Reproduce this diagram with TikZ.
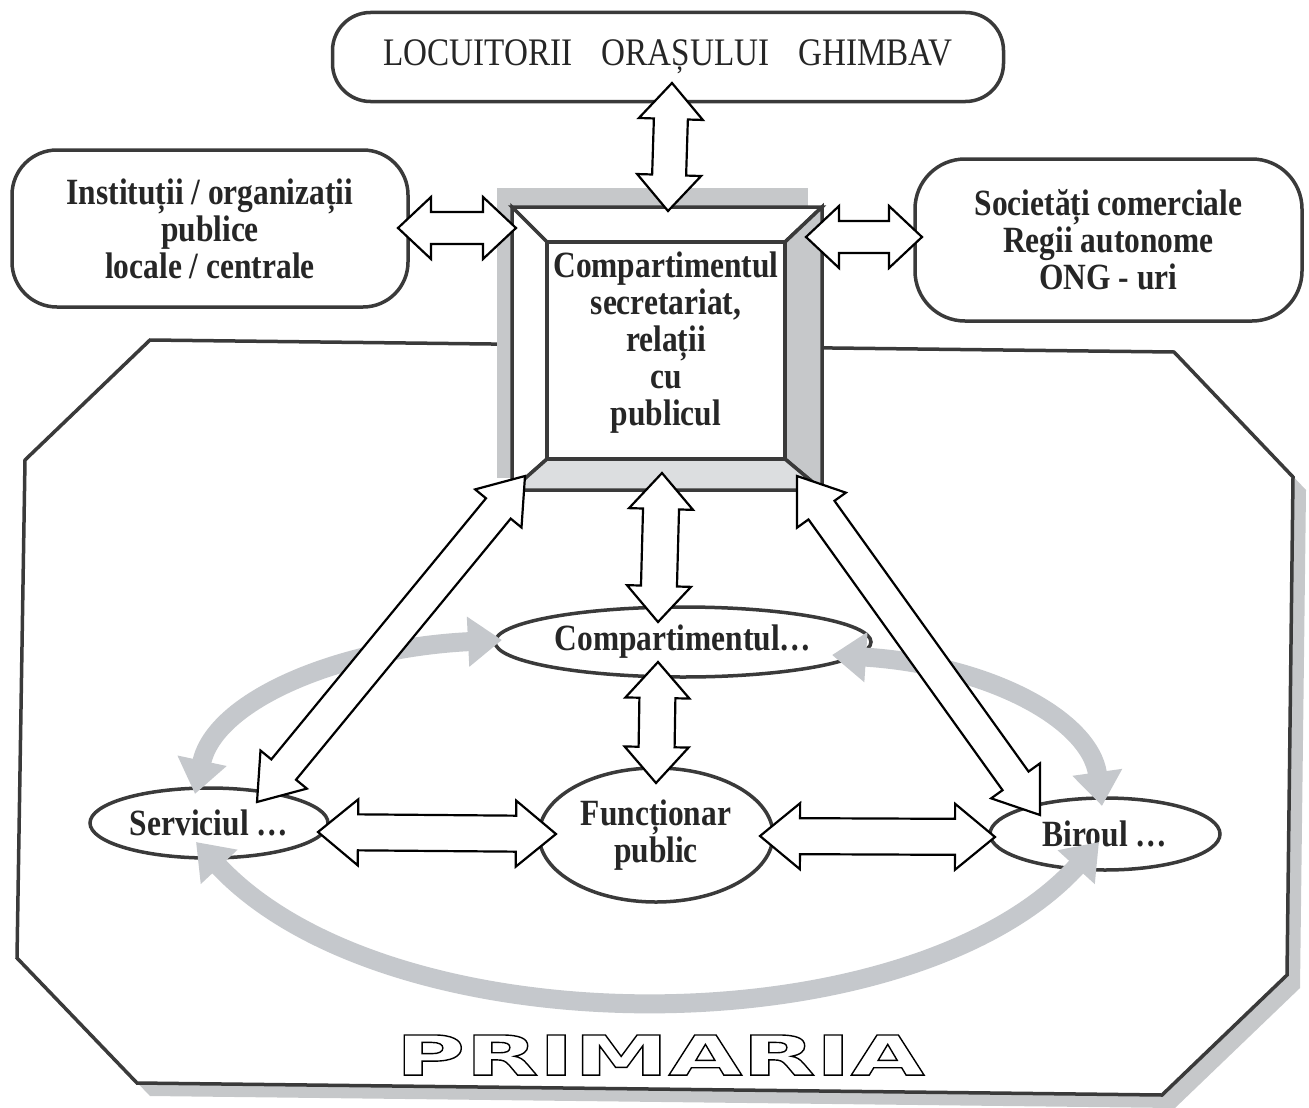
\documentclass[tikz,border=0pt]{standalone}
\usepackage{fontspec}
\setmainfont{Liberation Serif}[FakeStretch=0.85]
\newfontfamily\primfont{DejaVu Sans}[FakeStretch=1.73]
\usetikzlibrary{calc,shapes.geometric,arrows.meta}
\definecolor{ink}{HTML}{3A3A3A}
\definecolor{shadowgray}{HTML}{C6C8CA}
\definecolor{lightgray}{HTML}{DCDEE0}
\definecolor{arcgray}{HTML}{C5C8CC}
\newcommand{\dblarrow}[5]{%
  \draw[blockarrow] (#1)
    -- ($(#1)!#5!(#2)!#4!90:(#2)$)
    -- ($(#1)!#5!(#2)!#3!90:(#2)$)
    -- ($(#2)!#5!(#1)!#3!270:(#1)$)
    -- ($(#2)!#5!(#1)!#4!270:(#1)$)
    -- (#2)
    -- ($(#2)!#5!(#1)!#4!90:(#1)$)
    -- ($(#2)!#5!(#1)!#3!90:(#1)$)
    -- ($(#1)!#5!(#2)!#3!270:(#2)$)
    -- ($(#1)!#5!(#2)!#4!270:(#2)$)
    -- cycle;}
\newcommand{\outlinetext}[1]{\special{pdf:literal direct 1 Tr 1.4 w}#1\special{pdf:literal direct 0 Tr}}
\tikzset{
  frameline/.style={draw=ink, line width=3.5pt, line join=miter},
  rbox/.style={draw=ink, line width=3.5pt, fill=white, align=center, inner sep=0pt},
  oval/.style={ellipse, draw=ink, line width=3.5pt, fill=white, inner sep=0pt, align=center},
  blockarrow/.style={draw=black, line width=2.2pt, fill=white, line join=miter},
  grayarc/.style={draw=arcgray, line width=19pt,
    {Triangle[length=34pt,width=48pt]}-{Triangle[length=34pt,width=48pt]}},
  boldtext/.style={font=\fontsize{37}{37}\selectfont\bfseries, text=black!85},
}
\begin{document}
\begin{tikzpicture}[x=1pt,y=-1pt]
\useasboundingbox (0,0) rectangle (1309,1108);

% ---- PRIMARIA frame (octagon with shadow)
\fill[shadowgray, shift={(13,13)}] (150,340) -- (1174,352) -- (1293,477) -- (1287,975)
  -- (1162,1095) -- (137,1083) -- (17,958) -- (25,460) -- cycle;
\draw[frameline, fill=white] (150,340) -- (1174,352) -- (1293,477) -- (1287,975)
  -- (1162,1095) -- (137,1083) -- (17,958) -- (25,460) -- cycle;

% ---- outer boxes
\node[rbox, rounded corners=38pt, minimum width=671, minimum height=89,
  font=\fontsize{39}{40}\selectfont, text=black!85] (top) at (668,57)
  {LOCUITORII\hspace{0.75em}ORAȘULUI\hspace{0.75em}GHIMBAV};
\node[rbox, boldtext, rounded corners=45pt, minimum width=396, minimum height=157]
  (left) at (210,228.5) {Instituții / organizații\\publice\\locale / centrale};
\node[rbox, boldtext, rounded corners=50pt, minimum width=387, minimum height=162]
  (right) at (1108.5,240) {Societăți comerciale\\Regii autonome\\ONG - uri};

% ---- central bevelled box
\coordinate (otl) at (512,207); \coordinate (otr) at (822,207);
\coordinate (obr) at (822,490); \coordinate (obl) at (512,490);
\coordinate (itl) at (547,242); \coordinate (itr) at (785,242);
\coordinate (ibr) at (785,459); \coordinate (ibl) at (547,459);
\fill[shadowgray] (497,188) rectangle (808,478);
\draw[frameline, fill=white] (otl) -- (otr) -- (itr) -- (itl) -- cycle;
\draw[frameline, fill=white] (otl) -- (itl) -- (ibl) -- (obl) -- cycle;
\draw[frameline, fill=shadowgray] (otr) -- (obr) -- (ibr) -- (itr) -- cycle;
\draw[frameline, fill=lightgray] (obl) -- (ibl) -- (ibr) -- (obr) -- cycle;
\node[draw=ink, line width=3.5pt, fill=white,
  minimum width=238, minimum height=217, inner sep=0pt] (cen) at (666,350.5) {};
\node[boldtext, align=center, inner sep=0pt] (centext) at (666,343)
  {Compartimentul\\secretariat,\\relații\\cu\\publicul};

% ---- ellipses
\node[oval, boldtext, minimum width=376, minimum height=70] (comp) at (683,642)
  {\makebox[0pt]{Compartimentul\ldots}};
\node[oval, boldtext, minimum width=234, minimum height=134] (func) at (656,835)
  {Funcționar\\public};
\node[oval, boldtext, minimum width=238, minimum height=70] (serv) at (209,823)
  {\makebox[0pt]{Serviciul \ldots}};
\node[oval, boldtext, minimum width=230, minimum height=72] (bir) at (1105,834)
  {\makebox[0pt]{Biroul \ldots}};

% ---- gray curved arrows
\coordinate (g1a) at (195,794); \coordinate (g1b) at (502,640);
\coordinate (g2a) at (832,655); \coordinate (g2b) at (1102,806);
\coordinate (g3a) at (196,842); \coordinate (g3b) at (1099,842);
\draw[grayarc] (g1a) .. controls (215,700) and (340,648) .. (g1b);
\draw[grayarc] (g2a) .. controls (990,665) and (1090,720) .. (g2b);
\draw[grayarc] (g3a) .. controls (390,1050) and (910,1050) .. (g3b);

% ---- block double arrows
\coordinate (a1) at (672,83);  \coordinate (a2) at (668,211);
\coordinate (b1) at (398,228); \coordinate (b2) at (516,228);
\coordinate (c1) at (806,237); \coordinate (c2) at (922,237);
\coordinate (d1) at (662,473); \coordinate (d2) at (658,622);
\coordinate (e1) at (658,662); \coordinate (e2) at (656,783);
\coordinate (f1) at (318,832); \coordinate (f2) at (556,834);
\coordinate (h1) at (760,836); \coordinate (h2) at (995,837);
\coordinate (k1) at (525,476); \coordinate (k2) at (257,802);
\coordinate (m1) at (797,476); \coordinate (m2) at (1040,815);
\dblarrow{a1}{a2}{17pt}{32pt}{36pt}
\dblarrow{b1}{b2}{16pt}{31pt}{33pt}
\dblarrow{c1}{c2}{16pt}{31pt}{33pt}
\dblarrow{d1}{d2}{18pt}{32pt}{36pt}
\dblarrow{e1}{e2}{18pt}{32pt}{36pt}
\dblarrow{f1}{f2}{18pt}{33pt}{40pt}
\dblarrow{h1}{h2}{18pt}{33pt}{40pt}
\dblarrow{k1}{k2}{16pt}{30pt}{42pt}
\dblarrow{m1}{m2}{16pt}{30pt}{42pt}

% ---- PRIMARIA label
\node[inner sep=0pt, text=black] (prim) at (660,1055)
  {\primfont\bfseries\fontsize{55}{60}\selectfont\outlinetext{PRIMARIA}};
\end{tikzpicture}
\end{document}
